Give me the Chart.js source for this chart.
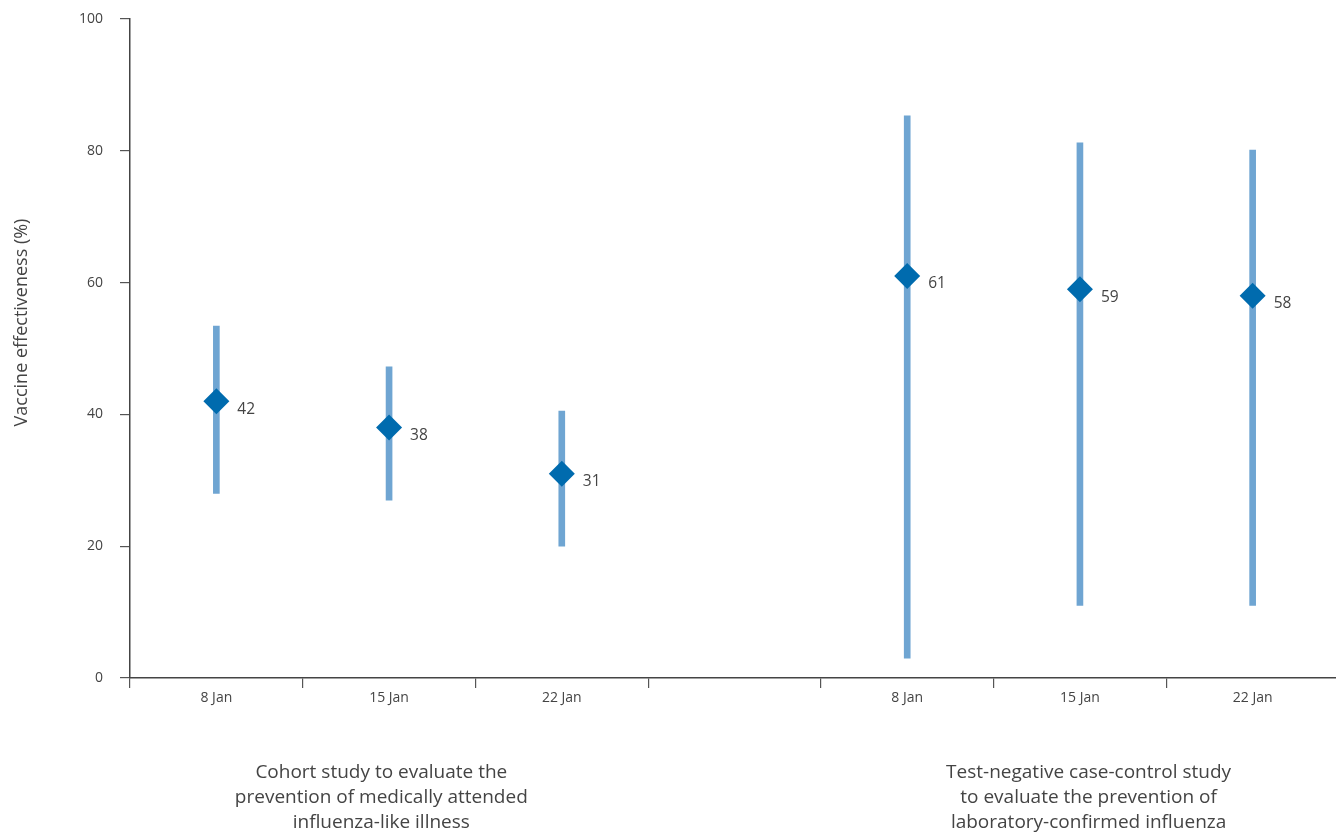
<!DOCTYPE html>
<html>
<head>
<meta charset="utf-8">
<script src="https://cdn.jsdelivr.net/npm/chart.js@4/dist/chart.umd.min.js"></script>
<style>
html,body{margin:0;padding:0;background:#fff;overflow:hidden;}
#wrap{width:1339px;height:832px;position:relative;}
</style>
</head>
<body>
<div id="wrap"><canvas id="c" width="1339" height="832"></canvas></div>
<script>
const categories = ['8 Jan', '15 Jan', '22 Jan', '', '8 Jan', '15 Jan', '22 Jan'];
const estimates = [42, 38, 31, null, 61, 59, 58];
const lowerCI = [28, 27, 20, null, 3, 11, 11];
const upperCI = [53.4, 47.2, 40.5, null, 85.3, 81.2, 80.1];
const yTicks = [0, 20, 40, 60, 80, 100];
const yTitle = 'Vaccine effectiveness (%)';
const groupLabels = [
  { center: 0.955, lines: ['Cohort study to evaluate the', 'prevention of medically attended', 'influenza-like illness'] },
  { center: 5.05, lines: ['Test-negative case-control study', 'to evaluate the prevention of', 'laboratory-confirmed influenza'] }
];

const FONT = '"Open Sans", "DejaVu Sans", sans-serif';
const TEXT = '#444444';

const ciData = lowerCI.map((l, i) => (l === null ? null : [l, upperCI[i]]));

const labelPlugin = {
  id: 'labels',
  afterDatasetsDraw(chart) {
    const ctx = chart.ctx;
    const meta = chart.getDatasetMeta(1);
    ctx.save();
    ctx.font = '15.5px ' + FONT;
    ctx.fillStyle = TEXT;
    ctx.textAlign = 'left';
    ctx.textBaseline = 'middle';
    meta.data.forEach((pt, i) => {
      if (estimates[i] === null) return;
      ctx.fillText(String(estimates[i]), pt.x + 21, pt.y + 8);
    });
    // group labels
    const xs = chart.scales.x;
    ctx.font = '19px ' + FONT;
    ctx.textAlign = 'center';
    groupLabels.forEach(g => {
      const cx = xs.getPixelForValue(g.center);
      g.lines.forEach((ln, k) => {
        ctx.fillText(ln, cx, 773 + k * 25);
      });
    });
    // y title
    const ys = chart.scales.y;
    ctx.translate(22, (ys.top + ys.bottom) / 2 - 26);
    ctx.rotate(-Math.PI / 2);
    ctx.font = '18px ' + FONT;
    ctx.fillText(yTitle, 0, 0);
    ctx.restore();
  }
};

new Chart(document.getElementById('c'), {
  type: 'bar',
  data: {
    labels: categories,
    datasets: [
      {
        type: 'bar',
        data: ciData,
        backgroundColor: '#6fa5d2',
        borderWidth: 0,
        barThickness: 6,
        order: 2
      },
      {
        type: 'line',
        data: estimates,
        showLine: false,
        clip: false,
        pointStyle: 'rectRot',
        pointRadius: 13,
        pointHoverRadius: 13,
        pointBackgroundColor: '#006bae',
        pointBorderColor: '#006bae',
        pointBorderWidth: 0,
        order: 1
      }
    ]
  },
  options: {
    responsive: false,
    animation: false,
    events: [],
    layout: { autoPadding: false, padding: { top: 19, right: 0, left: 0, bottom: 0 } },
    plugins: { legend: { display: false }, tooltip: { enabled: false } },
    scales: {
      x: {
        offset: true,
        grid: { offset: true, drawOnChartArea: false, drawTicks: true, tickLength: 10, color: '#555', lineWidth: 1.2 },
        border: { color: '#444', width: 1.5 },
        ticks: { color: TEXT, font: { family: FONT, size: 14 }, padding: 2, maxRotation: 0, autoSkip: false },
        afterFit(s) { s.height = 154; s.paddingLeft = 0; s.paddingRight = 0; }
      },
      y: {
        min: 0,
        max: 100,
        afterBuildTicks(s) { s.ticks = yTicks.map(v => ({ value: v })); },
        grid: { drawOnChartArea: false, drawTicks: true, tickLength: 10, color: '#555', lineWidth: 1.2 },
        border: { color: '#444', width: 1.5 },
        ticks: { color: TEXT, font: { family: FONT, size: 14 }, padding: 17 },
        afterFit(s) { s.width = 130; s.paddingTop = 0; s.paddingBottom = 0; }
      }
    }
  },
  plugins: [labelPlugin]
});
</script>
</body>
</html>
